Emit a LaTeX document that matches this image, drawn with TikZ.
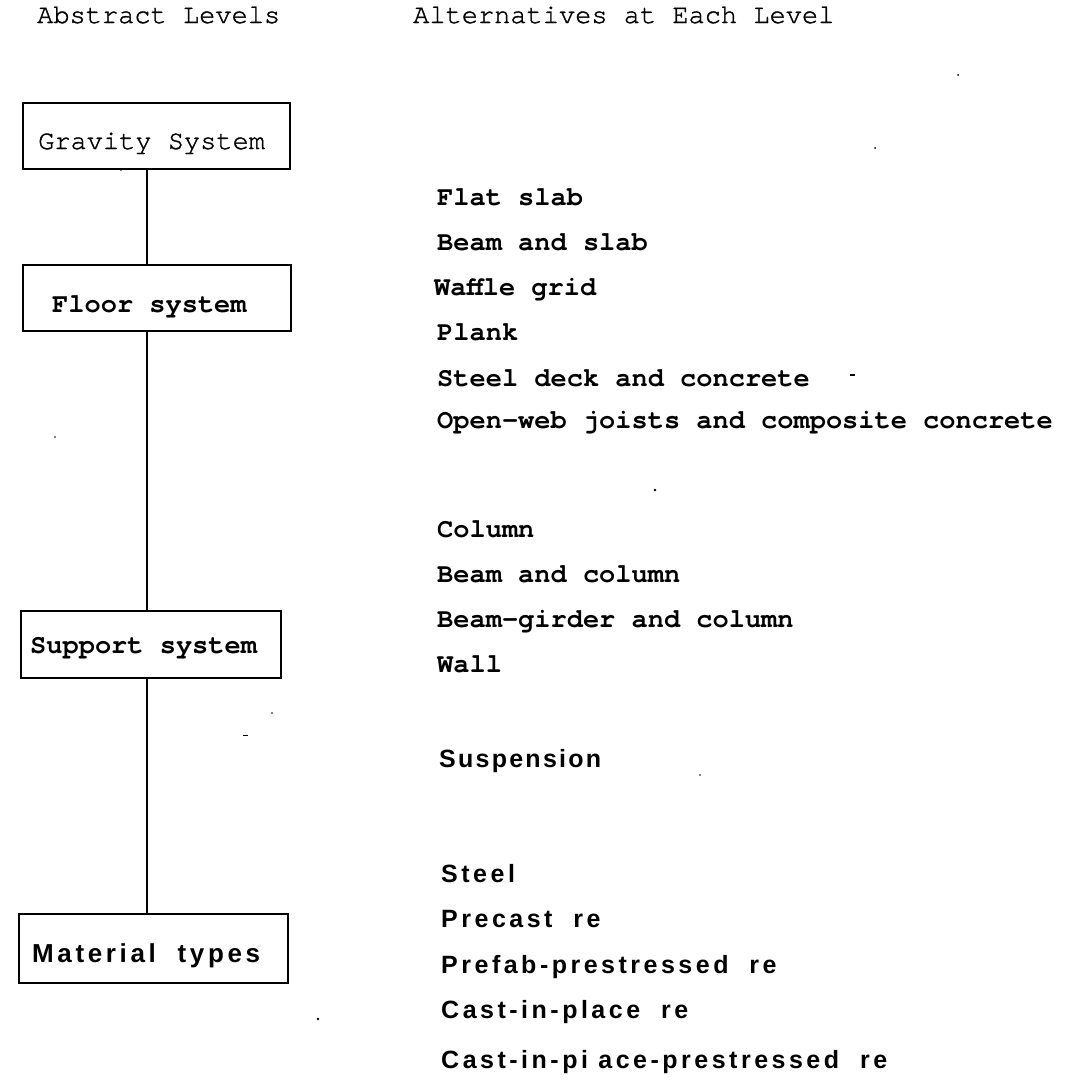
\documentclass[tikz,border=0pt]{standalone}
\usepackage{fontspec}
\setmonofont{texgyrecursor}[Extension=.otf,UprightFont=*-regular,BoldFont=*-bold]
\newfontfamily\cregular{texgyrecursor}[Extension=.otf,UprightFont=*-regular,FakeBold=1.2]
\newfontfamily\lsans[LetterSpace=14]{Liberation Sans}
\newfontfamily\ssans[LetterSpace=9]{Liberation Sans}
\begin{document}
\begin{tikzpicture}[x=1pt,y=-1pt,
  boxs/.style={draw=black,line width=1.8pt,rectangle,inner sep=0pt,anchor=north west},
  hd/.style={anchor=base west,inner sep=0pt,font=\cregular\fontsize{27}{27}\selectfont},
  mb/.style={anchor=base west,inner sep=0pt,font=\ttfamily\bfseries\fontsize{27}{27}\selectfont},
  ab/.style={anchor=base west,inner sep=0pt,font=\lsans\bfseries\fontsize{25}{25}\selectfont},
  link/.style={line width=2.8pt},
  speck/.style={fill=black}]
\useasboundingbox[fill=white] (0,0) rectangle (1075,1082);
% headers
\node[hd] (h1) at (37,23) {Abstract Levels};
\node[hd] (h2) at (413,23) {Alternatives at Each Level};
% boxes
\node[boxs,minimum width=267pt,minimum height=66pt] (grav) at (22,102) {};
\node[boxs,minimum width=268pt,minimum height=66pt] (floor) at (22,264) {};
\node[boxs,minimum width=260pt,minimum height=67pt] (supp) at (20,610) {};
\node[boxs,minimum width=269pt,minimum height=69pt] (mat) at (18,913) {};
\node[hd] (gravt) at (38,149) {Gravity System};
\node[mb] (floort) at (52,312) {Floor system};
\node[mb] (suppt) at (30,653) {Support system};
\node[ab,font=\lsans\bfseries\fontsize{26}{26}\selectfont] (matt) at (32,962) {Material\ \ types};
% vertical connector
\coordinate (vl) at (147,0);
\draw[link] (vl |- grav.south) -- (vl |- floor.north);
\draw[link] (vl |- floor.south) -- (vl |- supp.north);
\draw[link] (vl |- supp.south) -- (vl |- mat.north);
% floor alternatives
\node[mb] (f1) at (437,205) {Flat slab};
\node[mb] (f2) at (437,250) {Beam and slab};
\node[mb] (f3) at (434,295) {Waffle grid};
\node[mb] (f4) at (437,340) {Plank};
\node[mb] (f5) at (437,386) {Steel deck and concrete};
\node[mb] (f6) at (437,428) {Open-web joists and composite concrete};
% support alternatives
\node[mb] (s1) at (437,537) {Column};
\node[mb] (s2) at (437,582) {Beam and column};
\node[mb] (s3) at (437,627) {Beam-girder and column};
\node[mb] (s4) at (437,672) {Wall};
\node[ab,font=\ssans\bfseries\fontsize{25}{25}\selectfont] (s5) at (439,767) {Suspension};
% material alternatives
\node[ab] (m1) at (441,882) {Steel};
\node[ab] (m2) at (441,927) {Precast\ \ re};
\node[ab] (m3) at (441,973) {Prefab-prestressed\ \ re};
\node[ab] (m4) at (441,1018) {Cast-in-place\ \ re};
\node[ab] (m5) at (441,1068) {Cast-in-pi ace-prestressed\ \ re};
% scan specks
\fill[speck] (850,374) rectangle (855,376);
\fill[speck] (958,75) circle (1pt);
\fill[speck] (875,148) circle (1pt);
\fill[speck] (121,170) circle (0.8pt);
\fill[speck] (655,490) circle (1.3pt);
\fill[speck] (55,437) circle (0.8pt);
\fill[speck] (272,713) circle (0.8pt);
\fill[speck] (243,735) rectangle (248,736);
\fill[speck] (700,775) circle (0.8pt);
\fill[speck] (318,1019) circle (1.3pt);
\end{tikzpicture}
\end{document}
